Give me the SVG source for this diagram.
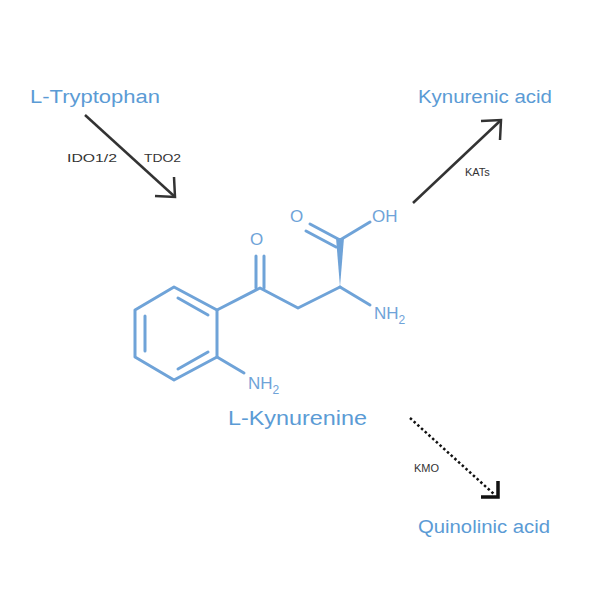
<svg xmlns="http://www.w3.org/2000/svg" width="600" height="600" viewBox="0 0 600 600">
<style>
.lbl{font-family:"Liberation Sans",Arial,sans-serif;fill:#5b9bd5}
.enz{font-family:"Liberation Sans",Arial,sans-serif;font-size:11px;fill:#333}
.bond{stroke:#6fa3d8;stroke-width:3;fill:none;stroke-linecap:round;stroke-linejoin:round}
.atom{font-family:"Liberation Sans",Arial,sans-serif;font-size:17px;fill:#6fa3d8}
.arr{stroke:#333;stroke-width:2.5;fill:none}
</style>
<rect width="600" height="600" fill="#fff"/>
<g id="tryptophan"><text class="lbl" x="30" y="103" font-size="18" textLength="130" lengthAdjust="spacingAndGlyphs">L-Tryptophan</text></g>
<g id="kynurenic"><text class="lbl" x="418" y="103" font-size="18" textLength="134" lengthAdjust="spacingAndGlyphs">Kynurenic acid</text></g>
<g id="quinolinic"><text class="lbl" x="418" y="533" font-size="18" textLength="132" lengthAdjust="spacingAndGlyphs">Quinolinic acid</text></g>
<g id="kynurenine">
<polygon class="bond" points="174,287 217,310 217,357 174,380 135,357 135,310"/>
<line class="bond" x1="145" y1="316" x2="145" y2="351"/>
<line class="bond" x1="178" y1="298" x2="208" y2="315"/>
<line class="bond" x1="178" y1="369" x2="208" y2="352"/>
<polyline class="bond" points="217,310 260,288 298,308 340,287"/>
<line class="bond" x1="256" y1="288" x2="256" y2="256"/>
<line class="bond" x1="264" y1="288" x2="264" y2="256"/>
<polygon points="340,287 336,238 344,238" fill="#6fa3d8"/>
<line class="bond" x1="340" y1="240" x2="310" y2="224"/>
<line class="bond" x1="336" y1="247" x2="306" y2="231"/>
<line class="bond" x1="340" y1="240" x2="370" y2="222"/>
<line class="bond" x1="340" y1="287" x2="370" y2="305"/>
<line class="bond" x1="217" y1="357" x2="244" y2="373"/>
<text class="atom" x="250" y="245">O</text>
<text class="atom" x="290" y="222">O</text>
<text class="atom" x="372" y="222">OH</text>
<text class="atom" x="374" y="319">NH<tspan font-size="12" dy="5">2</tspan></text>
<text class="atom" x="248" y="389">NH<tspan font-size="12" dy="5">2</tspan></text>
<text class="lbl" x="228" y="425" font-size="20" textLength="139" lengthAdjust="spacingAndGlyphs">L-Kynurenine</text>
</g>
<g id="connectors">
<line class="arr" x1="85" y1="115" x2="174" y2="196"/>
<polyline class="arr" stroke-width="3" points="155,196 175,197 174,177"/>
<text class="enz" x="67" y="162" textLength="50" lengthAdjust="spacingAndGlyphs">IDO1/2</text>
<text class="enz" x="144" y="162" textLength="37" lengthAdjust="spacingAndGlyphs">TDO2</text>
<line class="arr" x1="413" y1="203" x2="500" y2="121"/>
<polyline class="arr" stroke-width="3" points="481,121 501,120 500,140"/>
<text class="enz" x="465" y="176">KATs</text>
<line x1="410" y1="418" x2="495" y2="495" stroke="#111" stroke-width="2.5" stroke-dasharray="2.5,2.5"/>
<polyline points="481,497 498,497 498,481" stroke="#111" stroke-width="3.5" fill="none"/>
<text class="enz" x="414" y="472">KMO</text>
</g>
</svg>
